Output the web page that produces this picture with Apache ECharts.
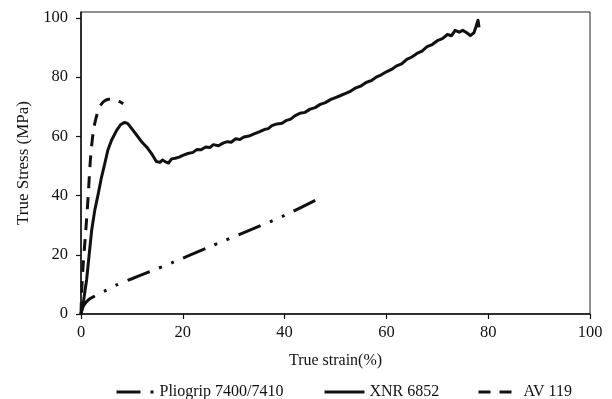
<!DOCTYPE html>
<html>
<head>
<meta charset="utf-8">
<script src="https://cdn.jsdelivr.net/npm/echarts@6/dist/echarts.min.js"></script>
<style>html,body{margin:0;padding:0;background:#fff;}#c{width:612px;height:399px;}</style>
</head>
<body>
<div id="c"></div>
<script>
var xTicks = [0, 20, 40, 60, 80, 100];
var yTicks = [0, 20, 40, 60, 80, 100];
var seriesNames = ['Pliogrip 7400/7410', 'XNR 6852', 'AV 119'];
var pliogrip = [[0,0],[0.2,1.5],[0.5,2.8],[1,4],[1.6,5],[2.4,5.8],[4.7,7.8],[7,9.8],[10,11.9],[13.5,14.3],[18,17.4],[25,22.5],[32,27.5],[40,33.3],[46.5,38.8]];
var xnr = [[0,0],[0.4,3],[0.8,8],[1.1,11.5],[1.6,20],[2.1,28.3],[2.7,35],[3.4,40.7],[4,46],[4.7,51],[5.3,55.5],[6,58.7],[7,62],[7.8,64],[8.6,64.7],[9.2,64.3],[10,62.5],[11,60.3],[12,58],[13,56.2],[14,53.8],[14.8,51.5],[15.5,51.2],[16,52],[16.6,51.4],[17.2,51],[17.8,52.4],[18.5,52.6],[19.3,53],[20,53.6],[21,54.2],[22,54.6],[22.8,55.6],[23.6,55.5],[24.5,56.4],[25.3,56.2],[26,57.2],[27,56.8],[28,57.8],[28.8,58.2],[29.5,58],[30.4,59.2],[31.2,58.9],[32,59.8],[33,60.1],[34,60.8],[35,61.5],[36,62.3],[36.8,62.6],[37.5,63.6],[38.5,64.2],[39.5,64.4],[40.4,65.4],[41.2,65.8],[42,66.9],[43,67.8],[44,68.1],[45,69.2],[46,69.7],[47,70.8],[48,71.4],[49,72.4],[50,73.1],[51,73.8],[52,74.5],[53,75.3],[54,76.4],[55,77],[56,78.2],[57,78.8],[58,80],[59,80.8],[60,81.8],[61,82.6],[62,83.8],[63,84.5],[64,86],[65,86.8],[66,88],[67,88.8],[68,90.3],[69,91],[70,92.3],[71,93],[72,94.4],[72.8,94],[73.5,95.8],[74.3,95.2],[75,95.8],[75.8,95],[76.5,94],[77.2,95],[77.6,97],[78,99.2],[78.2,96.8]];
var av119 = [[0,0],[0.15,8],[0.4,16],[0.8,25],[1.1,32],[1.4,39.6],[1.8,51],[2.1,57],[2.5,62.5],[3,66.5],[3.7,70],[4.5,71.8],[5.5,72.5],[6.5,72.5],[7.5,71.8],[8.3,71]];

var font = 'Liberation Serif';
var chart = echarts.init(document.getElementById('c'));
function leg(name, left, w) {
  return {
    data: [name], left: left, top: 384, padding: 0, itemWidth: w, itemHeight: 14, itemGap: 0,
    itemStyle: {opacity: 0},
    lineStyle: {width: 3},
    textStyle: {fontFamily: font, fontSize: 16, color: '#111'}, selectedMode: false
  };
}
chart.setOption({
  animation: false,
  backgroundColor: '#fff',
  grid: {left: 81, right: 22, top: 12, bottom: 85, show: true, borderColor: '#222', borderWidth: 1, backgroundColor: 'transparent'},
  legend: [leg(seriesNames[0], 115, 38), leg(seriesNames[1], 323, 40), leg(seriesNames[2], 477, 40)],
  xAxis: {
    type: 'value', min: 0, max: 100, interval: 20,
    name: 'True strain(%)', nameLocation: 'middle', nameGap: 39,
    nameTextStyle: {fontFamily: font, fontSize: 16, color: '#111'},
    axisLine: {show: true, onZero: false, lineStyle: {color: '#111', width: 1.5}},
    axisTick: {show: true, length: 5, lineStyle: {color: '#111', width: 1.2}},
    axisLabel: {fontFamily: font, fontSize: 16.5, color: '#111', margin: 10, customValues: xTicks},
    splitLine: {show: false}
  },
  yAxis: {
    type: 'value', min: 0, max: 102,
    name: 'True Stress (MPa)', nameLocation: 'middle', nameGap: 48,
    nameTextStyle: {fontFamily: font, fontSize: 17, color: '#111'},
    axisLine: {show: true, lineStyle: {color: '#111', width: 1.5}},
    axisTick: {show: true, length: 5, lineStyle: {color: '#111', width: 1.2}, customValues: yTicks},
    axisLabel: {fontFamily: font, fontSize: 16.5, color: '#111', margin: 13, customValues: yTicks},
    splitLine: {show: false}
  },
  series: [
    {name: seriesNames[0], type: 'line', data: pliogrip, symbol: 'none', smooth: 0.3, itemStyle: {color: '#111'},
     lineStyle: {color: '#111', width: 3, type: [24, 10, 3, 10, 3, 10]}},
    {name: seriesNames[1], type: 'line', data: xnr, symbol: 'none', itemStyle: {color: '#111'},
     lineStyle: {color: '#111', width: 3, type: 'solid', join: 'round'}},
    {name: seriesNames[2], type: 'line', data: av119, symbol: 'none', smooth: 0.3, itemStyle: {color: '#111'},
     lineStyle: {color: '#111', width: 3, type: [12, 9]}}
  ]
});
</script>
</body>
</html>
